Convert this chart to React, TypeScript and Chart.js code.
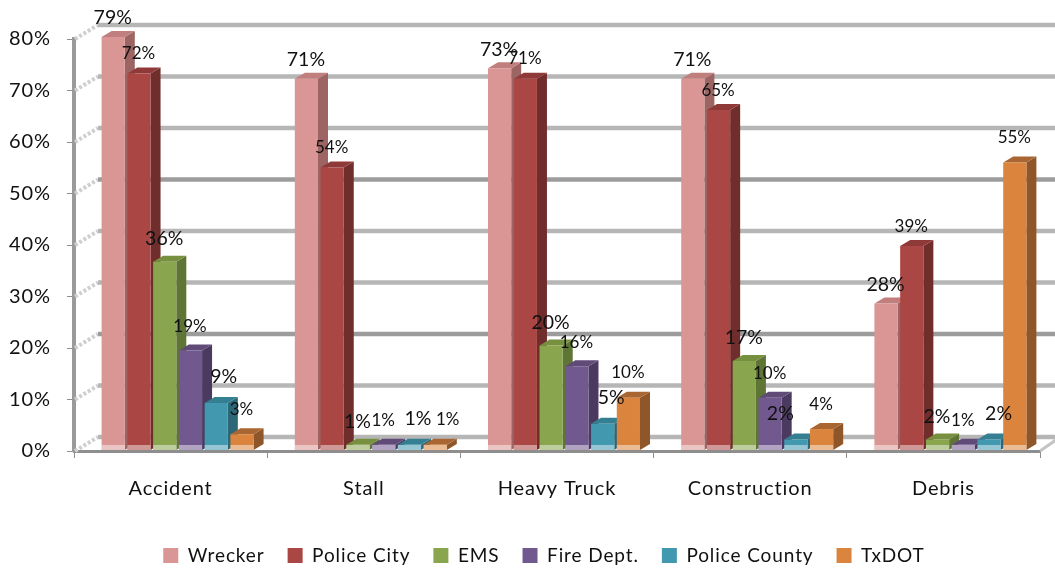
import React, { useEffect, useRef } from "react";
import { Chart, registerables } from "chart.js";

Chart.register(...registerables);

const categories = ["Accident", "Stall", "Heavy Truck", "Construction", "Debris"];
const wrecker = [79, 71, 73, 71, 28];
const policeCity = [72, 54, 71, 65, 39];
const ems = [36, 1, 20, 17, 2];
const fireDept = [19, 1, 16, 10, 1];
const policeCounty = [9, 1, 5, 2, 2];
const txdot = [3, 1, 10, 4, 55];
const seriesNames = ["Wrecker", "Police City", "EMS", "Fire Dept.", "Police County", "TxDOT"];
const seriesValues = [wrecker, policeCity, ems, fireDept, policeCounty, txdot];

const FONT = "Lato, 'Noto Sans', sans-serif";
const fronts = ["#d99694", "#aa4643", "#89a54e", "#71588f", "#4198af", "#db843d"];
const tops = ["#c07f7d", "#8f3a38", "#76903f", "#5f4a78", "#357f93", "#a96632"];
const sides = ["#9c6564", "#6f2d2b", "#5f7536", "#4b3a60", "#2c6778", "#8f562a"];

const DEPTH_X = 10;
const DEPTH_Y = 6;
const BAR_SHIFT = 7;
const WALL_X = 24;
const WALL_Y = 14;

const labelSizes = [19.5, 17, 19.5, 17, 19.5, 17];
const labelRise = [19, 20, 23, 24, 26, 25];
const labelSlide: Record<string, number> = {
  "4:0": 8, "4:1": 9, "4:2": 9, "4:3": -15, "4:4": 10, "5:1": 13,
};

const scene = {
  id: "scene3d",
  beforeLayout(chart: any) {
    chart.ctx.letterSpacing = "0.9px";
  },
  afterLayout(chart: any) {
    chart.legend.left += 24;
    chart.legend.right += 24;
  },
  beforeDatasetsDraw(chart: any) {
    const { ctx, chartArea } = chart;
    const y = chart.scales.y;
    const left = chartArea.left;
    ctx.save();
    ctx.letterSpacing = "0px";
    ctx.strokeStyle = "#c4c4c4";
    ctx.lineWidth = 3;
    ctx.beginPath();
    ctx.moveTo(chartArea.right, chartArea.bottom);
    ctx.lineTo(chartArea.right + 16, chartArea.bottom - 11);
    ctx.stroke();
    y.ticks.forEach((t: any, i: number) => {
      const py = y.getPixelForTick(i);
      ctx.strokeStyle = "#cfcfcf";
      ctx.lineWidth = 4;
      ctx.setLineDash([3, 2]);
      ctx.beginPath();
      ctx.moveTo(left + 1, py);
      ctx.lineTo(left + WALL_X, py - WALL_Y);
      ctx.stroke();
      ctx.setLineDash([]);
      ctx.strokeStyle = t.value === 20 || t.value === 50 ? "#9c9c9c" : "#b6b6b6";
      ctx.lineWidth = 4.5;
      ctx.beginPath();
      ctx.moveTo(left + WALL_X, py - WALL_Y);
      ctx.lineTo(chart.width, py - WALL_Y);
      ctx.stroke();
    });
    ctx.restore();
  },
  // The native back-to-front pass runs right to left; the extruded bars need
  // left to right, so each element is drawn in the pass below instead.
  beforeDatasetDraw() {
    return false;
  },
  afterDatasetsDraw(chart: any) {
    const { ctx } = chart;
    ctx.save();
    ctx.translate(BAR_SHIFT, 0);
    chart.data.datasets.forEach((_: any, i: number) => {
      chart.getDatasetMeta(i).data.forEach((bar: any) => {
        const l = bar.x - bar.width / 2;
        const r = bar.x + bar.width / 2;
        const t = bar.y;
        const b = bar.base;
        ctx.fillStyle = sides[i];
        ctx.beginPath();
        ctx.moveTo(r, t);
        ctx.lineTo(r + DEPTH_X, t - DEPTH_Y);
        ctx.lineTo(r + DEPTH_X, b - DEPTH_Y);
        ctx.lineTo(r, b);
        ctx.closePath();
        ctx.fill();
        ctx.fillStyle = tops[i];
        ctx.beginPath();
        ctx.moveTo(l, t);
        ctx.lineTo(l + DEPTH_X, t - DEPTH_Y);
        ctx.lineTo(r + DEPTH_X, t - DEPTH_Y);
        ctx.lineTo(r, t);
        ctx.closePath();
        ctx.fill();
        bar.draw(ctx);
        const h = Math.min(5, b - t);
        ctx.fillStyle = "rgba(255,255,255,0.45)";
        ctx.fillRect(l, b - h, bar.width, h);
      });
    });
    ctx.restore();

    ctx.save();
    ctx.letterSpacing = "0px";
    ctx.fillStyle = "#111";
    ctx.textAlign = "center";
    ctx.textBaseline = "middle";
    chart.data.datasets.forEach((ds: any, i: number) => {
      ctx.font = `${labelSizes[i]}px ${FONT}`;
      chart.getDatasetMeta(i).data.forEach((bar: any, c: number) => {
        const slide = labelSlide[`${i}:${c}`] ?? 0;
        ctx.fillText(`${ds.data[c]}%`, bar.x + BAR_SHIFT - 0.5 + slide, bar.y - labelRise[i]);
      });
    });
    ctx.restore();
  },
};

export default function App() {
  const ref = useRef<HTMLCanvasElement>(null);
  useEffect(() => {
    if (!ref.current) return;
    const chart = new Chart(ref.current, {
      type: "bar",
      data: {
        labels: categories,
        datasets: seriesNames.map((name, i) => ({
          label: name,
          data: seriesValues[i],
          backgroundColor: fronts[i],
          borderWidth: 0,
          yAxisID: "yBar",
          clip: false as any,
        })),
      },
      options: {
        responsive: false,
        animation: false,
        layout: { padding: { top: 39, right: 15, left: 0, bottom: -6 } },
        plugins: {
          tooltip: { enabled: false },
          legend: {
            position: "bottom",
            labels: {
              boxWidth: 15,
              boxHeight: 15,
              padding: 23,
              color: "#111",
              font: { family: FONT, size: 19 },
            },
          },
        },
        scales: {
          x: {
            offset: true,
            border: { color: "#8e8e8e", width: 3 },
            grid: { offset: true, drawOnChartArea: false, drawTicks: true, tickLength: 7, color: "#8e8e8e" },
            ticks: { color: "#111", font: { family: FONT, size: 20 }, padding: 19, maxRotation: 0 },
            afterFit: (s: any) => { s.height = 72; },
          },
          y: {
            min: 0,
            max: 80,
            border: { color: "#9a9a9a", width: 4 },
            grid: { drawOnChartArea: false, drawTicks: true, tickLength: 7, color: "#8e8e8e" },
            ticks: {
              stepSize: 10,
              color: "#111",
              font: { family: FONT, size: 20 },
              padding: 16,
              callback: (v: any) => `${v}%`,
            },
            afterFit: (s: any) => { s.width = 74; },
          },
          yBar: { display: false, min: -0.2, max: 78.6 },
        },
      },
      plugins: [scene],
    } as any);
    return () => chart.destroy();
  }, []);
  return (
    <div style={{ position: "absolute", left: 0, top: 0, width: 1055, height: 569, background: "#fff" }}>
      <canvas ref={ref} width={1055} height={569} style={{ display: "block" }} />
    </div>
  );
}
